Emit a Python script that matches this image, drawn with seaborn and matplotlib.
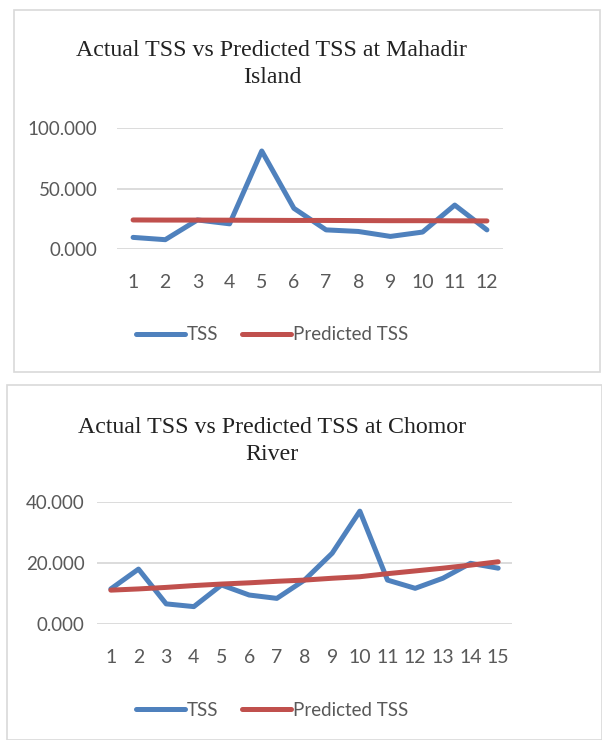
import numpy as np
import pandas as pd
import seaborn as sns
import matplotlib.pyplot as plt
from matplotlib.patches import Rectangle

# Mahadir Island
mahadir_x = list(range(1, 13))
mahadir_tss = [9.6, 7.7, 24.0, 20.8, 81.0, 33.6, 15.8, 14.5, 10.4, 14.0, 36.3, 15.8]
mahadir_pred = [24.0, 23.9, 23.9, 23.8, 23.7, 23.6, 23.6, 23.5, 23.4, 23.4, 23.3, 23.2]

# Chomor River
chomor_x = list(range(1, 16))
chomor_tss = [11.5, 18.0, 6.6, 5.7, 12.8, 9.5, 8.4, 14.4, 23.2, 37.0, 14.4, 11.7, 15.0, 19.9, 18.3]
chomor_pred = [11.1, 11.5, 12.0, 12.6, 13.1, 13.5, 14.0, 14.4, 15.0, 15.5, 16.5, 17.4, 18.3, 19.3, 20.4]

BLUE = '#4F81BD'
RED = '#C0504D'
GRID = '#D9D9D9'
TXT = '#595959'

sns.set_style("white")
plt.rcParams['font.family'] = ['Lato', 'DejaVu Sans']

W, H = 602, 740
fig = plt.figure(figsize=(W / 100, H / 100), dpi=100)


def px_axes(left, top, right, bottom):
    return fig.add_axes([left / W, 1 - bottom / H, (right - left) / W, (bottom - top) / H])


def draw_chart(box, area, x, tss, pred, title, xlim, ylim, yticks, title_y, legend_y, ylab_pad):
    fig.patches.append(Rectangle((box[0] / W, 1 - box[3] / H), (box[2] - box[0]) / W,
                                 (box[3] - box[1]) / H, transform=fig.transFigure,
                                 fill=False, edgecolor='#D9D9D9', linewidth=1.2))
    ax = px_axes(*area)
    df = pd.DataFrame({'x': x, 'TSS': tss, 'Predicted TSS': pred})
    sns.lineplot(data=df, x='x', y='TSS', ax=ax, color=BLUE, linewidth=3.6, label='TSS')
    sns.lineplot(data=df, x='x', y='Predicted TSS', ax=ax, color=RED, linewidth=3.6,
                 label='Predicted TSS')
    ax.set_xlim(*xlim)
    ax.set_ylim(*ylim)
    ax.set_xticks(x)
    ax.set_yticks(yticks)
    ax.set_yticklabels([f'{v:.3f}' for v in yticks])
    ax.set_xlabel('')
    ax.set_ylabel('')
    ax.yaxis.grid(True, color=GRID, linewidth=1.3)
    ax.set_axisbelow(True)
    for s in ax.spines.values():
        s.set_visible(False)
    ax.tick_params(axis='x', length=0, pad=18, labelsize=14, labelcolor=TXT)
    ax.tick_params(axis='y', length=0, pad=ylab_pad, labelsize=13.5, labelcolor=TXT)
    ax.get_legend().remove()
    cx = 272 / W
    fig.text(cx, 1 - title_y / H, title, ha='center', va='center', fontsize=17.2,
             family='Liberation Serif', color='#222222', linespacing=1.35)
    h, l = ax.get_legend_handles_labels()
    fig.legend(h, l, loc='center', bbox_to_anchor=(cx, 1 - legend_y / H), ncol=2,
               frameon=False, fontsize=13.5, handlelength=2.6, handletextpad=0.1,
               columnspacing=1.3, labelcolor=TXT)
    return ax


draw_chart((14, 10, 600, 372), (117, 128, 503, 249), mahadir_x, mahadir_tss, mahadir_pred,
           'Actual TSS vs Predicted TSS at Mahadir\nIsland', (0.5, 12.5), (0, 100),
           [0, 50, 100], 64, 335, 14)
draw_chart((7, 385, 602, 740), (97, 502, 512, 624), chomor_x, chomor_tss, chomor_pred,
           'Actual TSS vs Predicted TSS at Chomor\nRiver', (0.5, 15.5), (0, 40),
           [0, 20, 40], 441, 710, 9)

fig.savefig('out.png', dpi=100)
